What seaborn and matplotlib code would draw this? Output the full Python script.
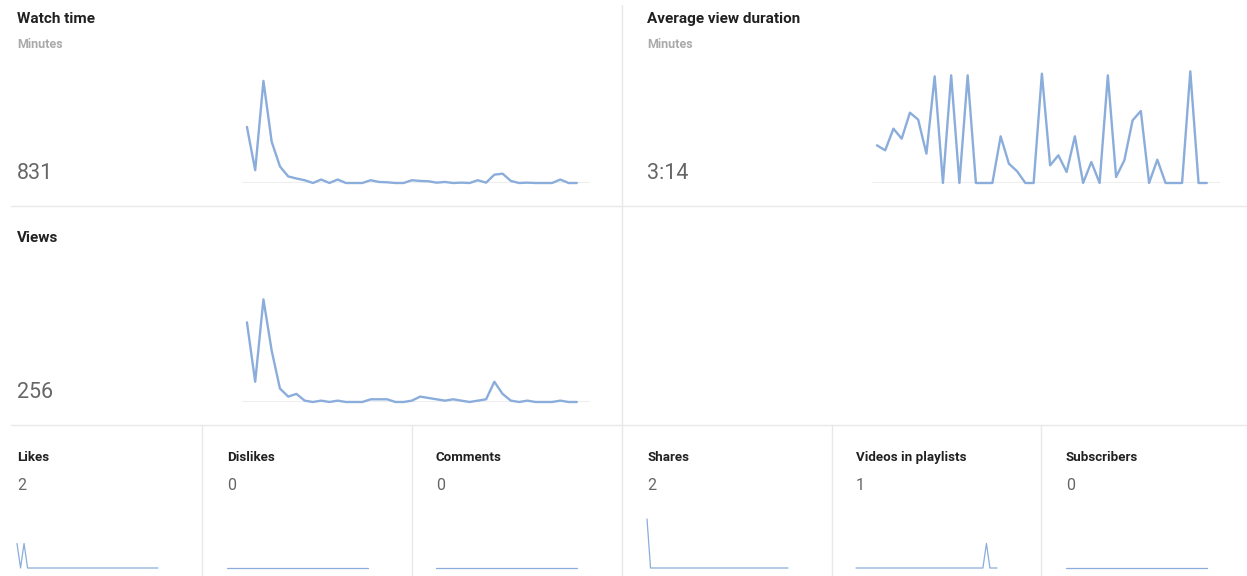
import matplotlib
matplotlib.use("Agg")
import matplotlib.pyplot as plt
import numpy as np
import seaborn as sns
from matplotlib.lines import Line2D

# daily values, 41 days
watch_time = [162, 37, 295, 119, 48, 19, 13, 8, 0, 10, 0, 10, 0, 0, 0, 8, 3, 2, 0, 0,
              8, 6, 5, 1, 3, 0, 1, 0, 8, 1, 24, 27, 6, 0, 1, 0, 0, 0, 10, 0, 0]
avg_duration = [113, 98, 163, 133, 211, 190, 88, 320, 0, 323, 0, 323, 0, 0, 0, 140, 58, 35, 0, 0,
                328, 53, 83, 33, 140, 0, 63, 0, 323, 18, 68, 188, 216, 0, 70, 0, 0, 0, 335, 0, 0]
views = [59, 15, 76, 38, 10, 4, 6, 1, 0, 1, 0, 1, 0, 0, 0, 2, 2, 2, 0, 0,
         1, 4, 3, 2, 1, 2, 1, 0, 1, 2, 15, 6, 1, 0, 1, 0, 0, 0, 1, 0, 0]

likes = [1, 0, 1] + [0] * 38
dislikes = [0] * 41
comments = [0] * 41
shares = [2] + [0] * 40
playlists = [0] * 37 + [1] + [0] * 3
subscribers = [0] * 41

big_titles = ["Watch time", "Average view duration", "Views"]
big_units = ["Minutes", "Minutes", ""]
big_totals = ["831", "3:14", "256"]

small_titles = ["Likes", "Dislikes", "Comments", "Shares", "Videos in playlists", "Subscribers"]
small_totals = ["2", "0", "0", "2", "1", "0"]

W, H = 1247, 576
LINE = "#8aaddb"
GRID = "#e8e8e8"

sns.set_style("white")
plt.rcParams["font.family"] = ["Roboto", "DejaVu Sans"]

fig = plt.figure(figsize=(W / 100, H / 100), dpi=100)


def rect(x0, y_top, x1, y_bot):
    return [x0 / W, 1 - y_bot / H, (x1 - x0) / W, (y_bot - y_top) / H]


def hline(y, x0, x1):
    fig.add_artist(Line2D([x0 / W, x1 / W], [1 - y / H, 1 - y / H], color=GRID, lw=1))


def vline(x, y0, y1):
    fig.add_artist(Line2D([x / W, x / W], [1 - y0 / H, 1 - y1 / H], color=GRID, lw=1))


def label(x, y, s, **kw):
    fig.text(x / W, 1 - y / H, s, va="baseline", ha="left", **kw)


# separators
vline(622, 5, 576)
hline(206, 11, 1247)
hline(425, 11, 1247)
for x in [202, 412, 832, 1041]:
    vline(x, 425, 576)

# big panels
big_series = [watch_time, avg_duration, views]
big_pos = [(17, 0), (647, 0), (17, 219)]
big_ax = [(242, 75, 590, 183, 312), (872, 65, 1220, 183, 354), (242, 294, 590, 402, 80)]
for title, unit, total, vals, (tx, dy), (x0, yt, x1, yb, ytop) in zip(
        big_titles, big_units, big_totals, big_series, big_pos, big_ax):
    label(tx, 23 + dy, title, fontsize=11, fontweight="bold", color="#212121")
    if unit:
        label(tx, 48 + dy, unit, fontsize=9, fontweight="bold", color="#aaaaaa")
    label(tx, 179 + dy, total, fontsize=15.5, color="#666666")

    ax = fig.add_axes(rect(x0, yt, x1, yb))
    ax.axhline(0, color="#eeeeee", lw=1.5, zorder=1)
    sns.lineplot(x=np.arange(len(vals)), y=vals, ax=ax, color=LINE, linewidth=1.7,
                 clip_on=False, zorder=2)
    ax.set_xlim(-0.6, 41.6)
    ax.set_ylim(0, ytop)
    ax.axis("off")

# small panels
small_series = [likes, dislikes, comments, shares, playlists, subscribers]
small_x = [17, 227, 436, 647, 856, 1066]
for title, total, vals, x in zip(small_titles, small_totals, small_series, small_x):
    label(x, 461, title, fontsize=9.6, fontweight="bold", color="#212121")
    label(x, 490, total, fontsize=11.5, color="#666666")
    ax = fig.add_axes(rect(x, 518, x + 141, 568))
    sns.lineplot(x=np.arange(len(vals)), y=vals, ax=ax, color=LINE, linewidth=0.9,
                 clip_on=False)
    ax.set_xlim(0, 40)
    ax.set_ylim(0, 2.04)
    ax.axis("off")

fig.savefig("out.png", dpi=100, facecolor="white")
